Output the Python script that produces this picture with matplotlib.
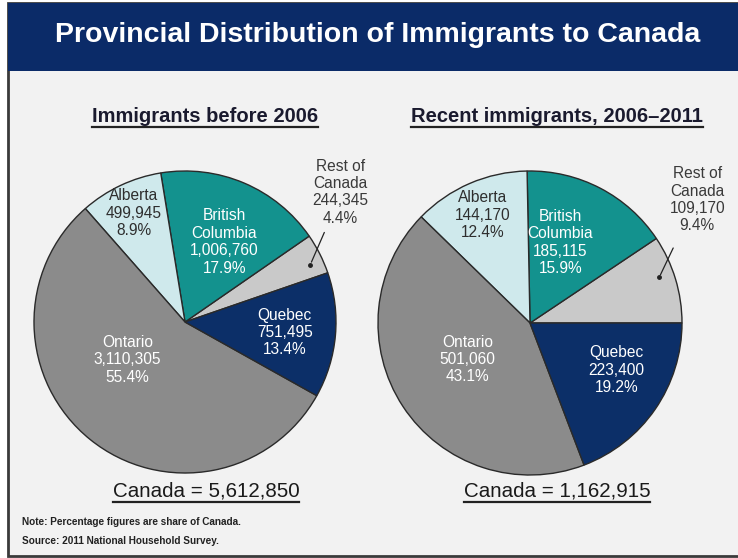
import matplotlib.pyplot as plt
from matplotlib.patches import Rectangle

plt.rcParams['font.family'] = ['Liberation Sans', 'DejaVu Sans']

# provinces, counted counter-clockwise from the start angle
provinces = ['Rest of\nCanada', 'British\nColumbia', 'Alberta', 'Ontario', 'Quebec']
before_2006 = [244345, 1006760, 499945, 3110305, 751495]
before_2006_pct = [4.4, 17.9, 8.9, 55.4, 13.4]
recent = [109170, 185115, 144170, 501060, 223400]
recent_pct = [9.4, 15.9, 12.4, 43.1, 19.2]
total_before = 5612850
total_recent = 1162915

colors = ['#c9c9c9', '#13928e', '#cfe9ec', '#8b8b8b', '#0c2f68']
text_colors = ['#3a3a3a', 'white', '#2e2e2e', 'white', 'white']

# label spots inside each pie (unit radius)
pos_left = [(1.03, 0.86), (0.26, 0.53), (-0.34, 0.72), (-0.38, -0.25), (0.66, -0.07)]
pos_right = [(1.10, 0.81), (0.20, 0.53), (-0.31, 0.71), (-0.41, -0.24), (0.57, -0.31)]

W, H = 738, 558
fig = plt.figure(figsize=(W / 100, H / 100), dpi=100)
fig.patch.set_facecolor('white')

bg = fig.add_axes([0, 0, 1, 1])
bg.set_xlim(0, W)
bg.set_ylim(H, 0)
bg.axis('off')

# panel body and title banner
bg.add_patch(Rectangle((8, 3), W + 20, 553, facecolor='#f2f2f2', edgecolor='#3a3a3a',
                       lw=2, clip_on=False))
bg.add_patch(Rectangle((8, 3), W, 68, facecolor='#0b2b68', edgecolor='none'))
bg.text(378, 35, 'Provincial Distribution of Immigrants to Canada', color='white',
        fontsize=20.5, fontweight='bold', ha='center', va='center')


def draw_pie(cx, cy, r, values, pcts, start, positions, arrow):
    ax = fig.add_axes([(cx - r) / W, (H - cy - r) / H, 2 * r / W, 2 * r / H])
    ax.pie(values, colors=colors, startangle=start, counterclock=True,
           wedgeprops=dict(edgecolor='#2a2a2a', linewidth=1.0))
    ax.set_xlim(-1, 1)
    ax.set_ylim(-1, 1)
    ax.set_aspect('equal')
    ax.axis('off')
    for name, v, p, (x, y), tc in zip(provinces, values, pcts, positions, text_colors):
        ax.text(x, y, f'{name}\n{v:,}\n{p:.1f}%', ha='center', va='center',
                fontsize=11.2, color=tc, linespacing=1.2, clip_on=False)
    (x0, y0), (x1, y1) = arrow
    ax.annotate('', xy=(x1, y1), xytext=(x0, y0),
                arrowprops=dict(arrowstyle='-', color='#222222', lw=0.9),
                annotation_clip=False)
    ax.plot([x1], [y1], 'o', color='#222222', ms=2.5, clip_on=False)


draw_pie(185, 322, 151, before_2006, before_2006_pct, 19, pos_left,
         [(0.93, 0.61), (0.83, 0.38)])
draw_pie(530, 323, 152, recent, recent_pct, 0, pos_right,
         [(0.95, 0.51), (0.85, 0.30)])

heads = [
    bg.text(205, 116, 'Immigrants before 2006', fontsize=14.5, fontweight='bold',
            color='#1a1a2e', ha='center', va='center'),
    bg.text(557, 116, 'Recent immigrants, 2006–2011', fontsize=14.5, fontweight='bold',
            color='#1a1a2e', ha='center', va='center'),
    bg.text(206, 491, f'Canada = {total_before:,}', fontsize=14.8,
            color='#1a1a1a', ha='center', va='center'),
    bg.text(557, 491, f'Canada = {total_recent:,}', fontsize=14.8,
            color='#1a1a1a', ha='center', va='center'),
]

bg.text(22, 522, 'Note: Percentage figures are share of Canada.', fontsize=7.2,
        fontweight='bold', color='#222222', ha='left', va='center')
bg.text(22, 541, 'Source: 2011 National Household Survey.', fontsize=7.2,
        fontweight='bold', color='#222222', ha='left', va='center')

# underline the headings
renderer = fig.canvas.get_renderer()
for t in heads:
    bb = t.get_window_extent(renderer)
    y = H - bb.y0 + 1
    bg.plot([bb.x0, bb.x1], [y, y], color='#222222', lw=1.6)

fig.savefig('out.png', dpi=100)
